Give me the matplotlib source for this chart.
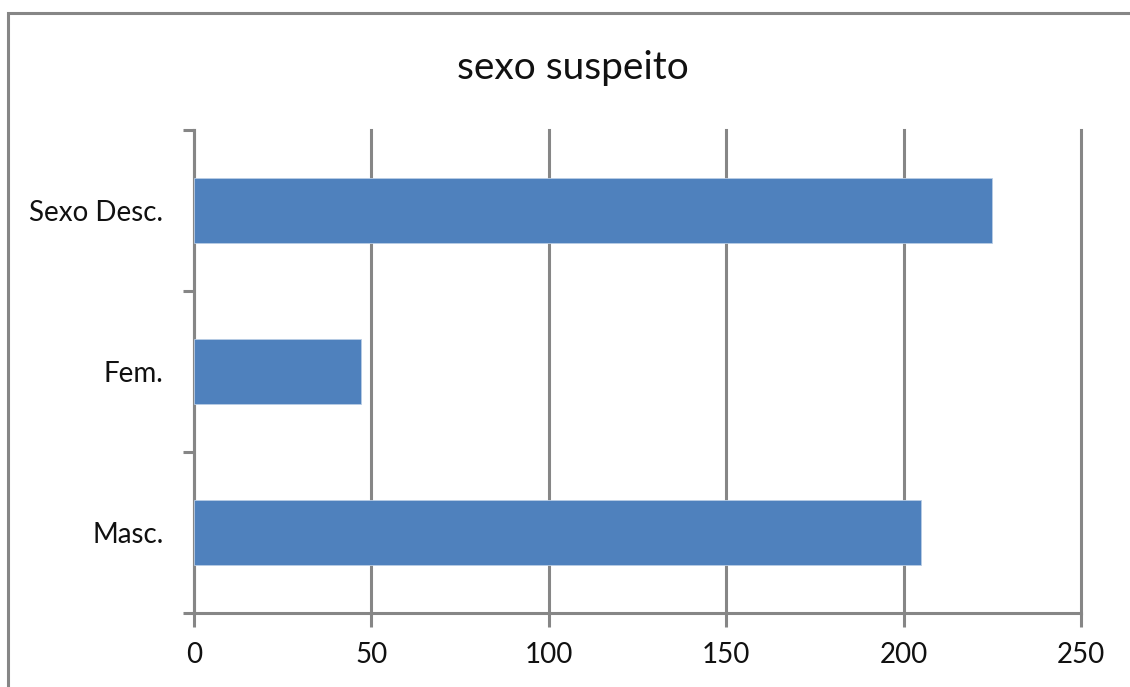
import matplotlib

matplotlib.use('Agg')
import matplotlib.pyplot as plt
from matplotlib.patches import Rectangle

categories = ['Masc.', 'Fem.', 'Sexo Desc.']
values = [205, 47, 225]
x_ticks = [0, 50, 100, 150, 200, 250]

bar_color = '#4F81BD'
grid_color = '#868686'

plt.rcParams['font.family'] = ['Lato', 'DejaVu Sans']

fig = plt.figure(figsize=(11.3, 6.87), dpi=100)
W, H = 1130, 687

# outer chart border (Excel style, cropped on right/bottom)
fig.patches.append(Rectangle((8 / W, -0.05), 1.2, 1 - 13 / H + 0.05, transform=fig.transFigure,
                             fill=False, edgecolor=grid_color, linewidth=2.2))

ax = fig.add_axes([194 / W, 1 - 613 / H, (1081 - 194) / W, (613 - 130) / H])

y = list(range(len(categories)))
ax.barh(y, values, height=0.4, color=bar_color, edgecolor='#B9CDE5', linewidth=0.6, zorder=3)

ax.set_xlim(0, 250)
ax.set_ylim(-0.5, len(categories) - 0.5)
ax.set_xticks(x_ticks)
ax.set_xticklabels([str(t) for t in x_ticks])
ax.xaxis.grid(True, color=grid_color, linewidth=2.2, zorder=1)
for gl in ax.get_xgridlines():
    gl.set_clip_on(False)

# category ticks sit at the boundaries
ax.set_yticks([i - 0.5 for i in range(len(categories) + 1)])
ax.set_yticklabels([])
ax.set_yticks(y, minor=True)
ax.set_yticklabels(categories, minor=True)
ax.tick_params(axis='y', which='minor', length=0, pad=22, labelsize=20, labelcolor='#111111')
ax.tick_params(axis='y', which='major', length=8, width=2.2, color=grid_color)
ax.tick_params(axis='x', length=10, width=2.2, color=grid_color, pad=11, labelsize=20,
               labelcolor='#111111')

for side in ['top', 'right']:
    ax.spines[side].set_visible(False)
for side in ['left', 'bottom']:
    ax.spines[side].set_color(grid_color)
    ax.spines[side].set_linewidth(2.2)

fig.text(573 / W, 1 - 68 / H, 'sexo suspeito', ha='center', va='center', fontsize=28, color='#111111')

fig.savefig('out.png', dpi=100)
